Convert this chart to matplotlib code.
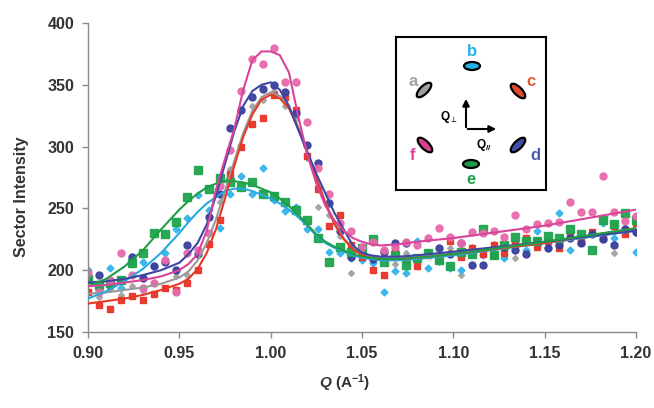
import matplotlib
matplotlib.use("Agg")
import matplotlib.pyplot as plt
from matplotlib.patches import Ellipse

plt.rcParams['font.family'] = ['Liberation Sans', 'DejaVu Sans']
plt.rcParams['mathtext.fontset'] = 'custom'
plt.rcParams['mathtext.rm'] = 'Liberation Sans:bold'
plt.rcParams['mathtext.it'] = 'Liberation Sans:italic:bold'
plt.rcParams['mathtext.bf'] = 'Liberation Sans:bold'

# ---------------- data ----------------
q_pts = [0.900, 0.906, 0.912, 0.918, 0.924, 0.930, 0.936, 0.942, 0.948, 0.954,
         0.960, 0.966, 0.972, 0.978, 0.984, 0.990, 0.996, 1.002, 1.008, 1.014,
         1.020, 1.026, 1.032, 1.038, 1.044, 1.050, 1.056, 1.062, 1.068, 1.074,
         1.080, 1.086, 1.092, 1.098, 1.104, 1.110, 1.116, 1.122, 1.128, 1.134,
         1.140, 1.146, 1.152, 1.158, 1.164, 1.170, 1.176, 1.182, 1.188, 1.194, 1.200]

pts_a = [183, 178, 185, 180, 187, 183, 190, 186, 195, 196, 212, 222, 255, 282, 300, 333, 338, 345, 333, 322,
         291, 251, 245, 228, 198, 215, 208, 213, 205, 214, 209, 215, 207, 218, 196, 219, 214, 221, 216, 210,
         224, 219, 226, 220, 228, 222, 231, 226, 214, 234, 230]
pts_b = [200, 184, 202, 186, 206, 207, 203, 214, 233, 242, 261, 249, 234, 262, 276, 262, 283, 257, 248, 251,
         233, 233, 215, 214, 210, 208, 206, 182, 199, 198, 224, 202, 209, 202, 200, 213, 212, 218, 210, 222,
         216, 232, 218, 246, 216, 224, 230, 238, 226, 234, 215]
pts_c = [182, 172, 169, 176, 179, 176, 181, 186, 184, 190, 200, 221, 241, 278, 300, 318, 323, 342, 340, 330,
         292, 266, 236, 245, 220, 211, 200, 196, 216, 208, 203, 212, 210, 224, 211, 218, 213, 220, 214, 221,
         226, 219, 224, 218, 229, 223, 231, 226, 236, 229, 238]
pts_d = [194, 196, 188, 192, 211, 194, 203, 207, 200, 220, 213, 243, 262, 315, 330, 340, 347, 350, 344, 327,
         301, 287, 254, 232, 211, 215, 209, 215, 222, 222, 210, 214, 218, 213, 222, 204, 204, 212, 219, 216,
         213, 224, 218, 220, 226, 222, 229, 225, 220, 233, 231]
pts_e = [193, 188, 190, 192, 206, 214, 230, 229, 239, 259, 281, 266, 275, 271, 267, 271, 262, 260, 255, 249,
         241, 226, 207, 219, 215, 218, 225, 207, 212, 204, 210, 214, 208, 203, 215, 213, 233, 212, 220, 227,
         224, 224, 228, 226, 233, 229, 216, 241, 237, 246, 241]
pts_f = [198, 182, 192, 214, 196, 186, 190, 208, 182, 214, 216, 230, 268, 297, 345, 371, 367, 380, 352, 352,
         320, 283, 262, 238, 232, 219, 223, 216, 219, 223, 220, 226, 234, 227, 222, 231, 230, 232, 227, 245,
         233, 237, 238, 239, 255, 247, 247, 276, 247, 240, 244]

q_fit = [0.90, 0.91, 0.92, 0.93, 0.94, 0.95, 0.955, 0.96, 0.965, 0.97, 0.975, 0.98, 0.985, 0.99, 0.995,
         1.00, 1.005, 1.01, 1.015, 1.02, 1.025, 1.03, 1.035, 1.04, 1.045, 1.05, 1.055, 1.06, 1.07, 1.08,
         1.10, 1.15, 1.20]
fit_a = [181, 182, 184, 186, 189, 194, 199, 208, 222, 241, 264, 288, 311, 329, 340,
         344, 341, 332, 316, 296, 275, 255, 238, 226, 218, 213, 211, 210, 210, 211, 214, 222, 232]
fit_b = [177, 183, 191, 201, 214, 230, 239, 247, 254, 259, 264, 266, 266, 264, 261,
         258, 254, 249, 243, 236, 228, 222, 218, 215, 212, 210, 209, 208, 208, 209, 212, 222, 232]
fit_c = [173, 175, 177, 180, 184, 189, 193, 201, 214, 233, 258, 284, 308, 326, 338,
         342, 339, 331, 315, 295, 274, 254, 237, 225, 217, 212, 210, 209, 209, 210, 213, 222, 234]
fit_d = [190, 191, 193, 196, 200, 206, 213, 222, 237, 260, 286, 312, 333, 345, 350,
         352, 346, 333, 314, 296, 278, 262, 246, 233, 220, 214, 212, 211, 211, 212, 215, 223, 232]
fit_e = [187, 193, 203, 216, 233, 249, 256, 262, 267, 270, 272, 272, 271, 269, 266,
         263, 258, 252, 245, 237, 229, 223, 219, 216, 213, 211, 210, 209, 209, 210, 213, 223, 234]
fit_f = [187, 188, 190, 192, 195, 200, 205, 213, 232, 265, 290, 314, 346, 370, 377,
         377, 374, 360, 325, 294, 270, 252, 240, 232, 226, 223, 221, 220, 221, 223, 226, 236, 249]

x_ticks = [0.90, 0.95, 1.00, 1.05, 1.10, 1.15, 1.20]
y_ticks = [150, 200, 250, 300, 350, 400]

# ---------------- figure ----------------
W, H = 654, 408
fig = plt.figure(figsize=(W / 100, H / 100), dpi=100)
ax = fig.add_axes([88 / W, (H - 332) / H, (636 - 88) / W, (332 - 23) / H])

series = [
    (pts_a, fit_a, '#a3a3a3', '#9a9a9a', 'D', 3.0),
    (pts_b, fit_b, '#35b4ea', '#2aa8e0', 'D', 3.5),
    (pts_c, fit_c, '#e8342a', '#e63a26', 's', 4.5),
    (pts_d, fit_d, '#3a3f9c', '#3d46a4', 'o', 5.0),
    (pts_e, fit_e, '#1fa54e', '#1f9e48', 's', 5.5),
    (pts_f, fit_f, '#e66aaa', '#d9439a', 'o', 5.0),
]
for pts, fit, pc, lc, mk, ms in series:
    ax.plot(q_pts, pts, linestyle='none', marker=mk, markersize=ms,
            markerfacecolor=pc, markeredgecolor=pc, alpha=0.95, zorder=2)
for pts, fit, pc, lc, mk, ms in series:
    ax.plot(q_fit, fit, color=lc, linewidth=1.5, zorder=3)

ax.set_xlim(0.90, 1.20)
ax.set_ylim(150, 400)
ax.set_xticks(x_ticks)
ax.set_xticklabels([f'{v:.2f}' for v in x_ticks])
ax.set_yticks(y_ticks)
for s in ['top', 'right']:
    ax.spines[s].set_visible(False)
for s in ['left', 'bottom']:
    ax.spines[s].set_color('#8a8a8a')
    ax.spines[s].set_linewidth(1.0)
ax.tick_params(direction='out', length=4, width=1, color='#8a8a8a',
               labelsize=11.5, labelcolor='#333333', pad=6)
for lab in ax.get_xticklabels() + ax.get_yticklabels():
    lab.set_fontweight('bold')

fig.text(22 / W, 1 - 197 / H, 'Sector Intensity', rotation=90, ha='center', va='center',
         fontsize=11.5, fontweight='bold', color='#333333')
fig.text(345 / W, 1 - 383 / H, r'$\mathit{Q}$ (A$^{\mathrm{-1}}$)', ha='center', va='center',
         fontsize=11, fontweight='bold', color='#333333')

# ---------------- inset ----------------
ax2 = fig.add_axes([396 / W, (H - 190) / H, 150 / W, 153 / H])
ax2.set_xlim(396, 546)
ax2.set_ylim(190, 37)
ax2.set_xticks([])
ax2.set_yticks([])
for s in ax2.spines.values():
    s.set_color('black')
    s.set_linewidth(1.5)

spot_x = [472, 424, 518, 518, 471, 425]
spot_y = [66, 90, 91, 145, 164, 145]
spot_ang = [0, -45, 45, -45, 0, 45]
spot_w = [16, 19, 19, 19, 16, 19]
spot_col = ['#22b2ea', '#a0a0a0', '#e04a2a', '#3d4fa8', '#1a9a4a', '#d9408f']
for x, y, a, w, c in zip(spot_x, spot_y, spot_ang, spot_w, spot_col):
    ax2.add_patch(Ellipse((x, y), w, 8, angle=a, facecolor=c, edgecolor='black', linewidth=1.6))

lab_txt = ['b', 'a', 'c', 'd', 'e', 'f']
lab_x = [472, 413, 531, 535, 471, 412]
lab_y = [51, 82, 82, 156, 180, 155]
lab_col = ['#22b2ea', '#a0a0a0', '#e8582e', '#4a5cb0', '#22a04e', '#d9408f']
for t, x, y, c in zip(lab_txt, lab_x, lab_y, lab_col):
    ax2.text(x, y, t, color=c, fontsize=12, fontweight='bold', ha='center', va='center')

ax2.annotate('', xy=(466, 96), xytext=(466, 130),
             arrowprops=dict(arrowstyle='-|>', color='black', lw=1.5, mutation_scale=10))
ax2.annotate('', xy=(499, 129), xytext=(465, 129),
             arrowprops=dict(arrowstyle='-|>', color='black', lw=1.5, mutation_scale=10))
ax2.text(449, 117, r'Q$_{\perp}$', fontsize=8.5, fontweight='bold', ha='center', va='center')
ax2.text(484, 145, r'Q$_{//}$', fontsize=8.5, fontweight='bold', ha='center', va='center')

fig.savefig('out.png', dpi=100)
